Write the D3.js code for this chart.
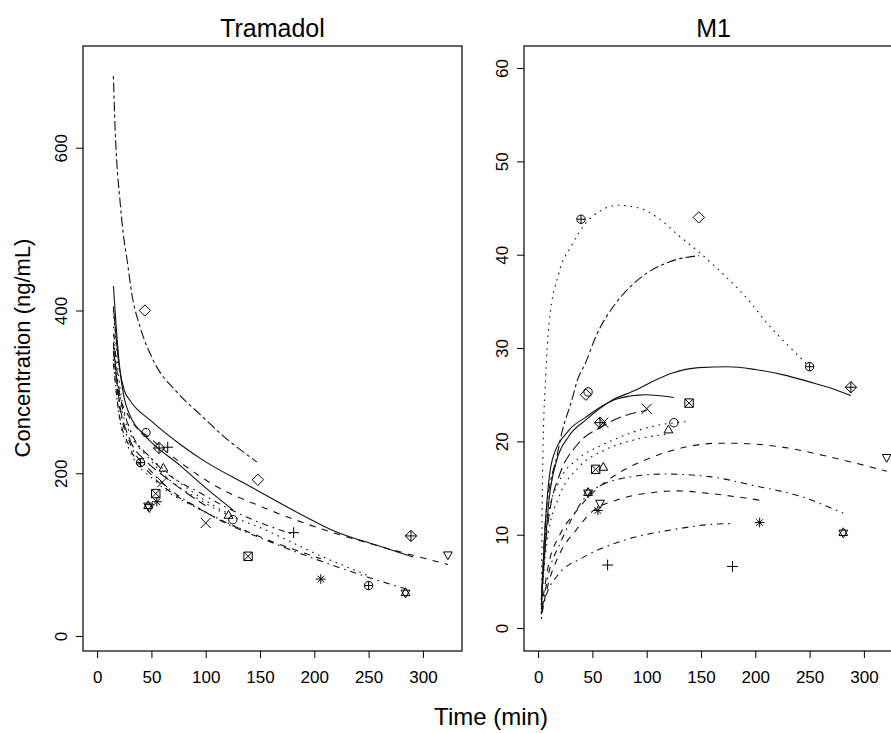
<!DOCTYPE html>
<html>
<head>
<meta charset="utf-8">
<script src="https://cdn.jsdelivr.net/npm/d3@7"></script>
<style>
body { margin: 0; background: #fff; }
text { font-family: "Liberation Sans", Arial, sans-serif; fill: #000; }
</style>
</head>
<body>
<div id="chart"></div>
<script>
// subjects: plotting symbol (R pch) and line type
var pchCodes = [1, 2, 3, 4, 5, 6, 7, 8, 9, 10, 11];
var ltyNames = ["solid", "dotted", "dotdash", "longdash", "twodash", "dashed",
                "dotted", "dashed", "solid", "dotted", "dotdash"];

// observed points, Tramadol panel
var obsTimeTram = [[45, 125], [61, 121], [65, 181], [60, 100], [44, 148], [48, 323],
                   [54, 139], [55, 206], [57, 289], [40, 250], [47, 284]];
var obsTram = [[250, 143], [206, 148], [232, 127], [189, 139], [400, 192], [158, 100],
               [175, 98], [165, 70], [231, 123], [213, 62], [160, 53]];

// observed points, M1 panel
var obsTimeM1 = [[46, 125], [60, 120], [64, 179], [60, 100], [44, 148], [57, 321],
                 [53, 139], [55, 204], [57, 288], [39.5, 250], [46, 281]];
var obsM1 = [[25.3, 22], [17.2, 21.2], [6.75, 6.6], [22, 23.5], [25, 44], [13.4, 18.3],
             [17, 24.1], [12.6, 11.3], [22, 25.8], [43.8, 28], [14.5, 10.2]];

// predicted curves: [time, conc]
var predTram = [
  [[15, 430], [20, 340], [25, 292], [30, 272], [45, 245], [76, 210], [100, 182], [125, 155]],
  [[15, 370], [20, 300], [30, 250], [45, 225], [61, 205], [90, 175], [121, 150]],
  [[15, 380], [20, 305], [30, 255], [50, 218], [100, 172], [143, 143], [181, 125]],
  [[15, 360], [20, 292], [30, 242], [45, 215], [60, 198], [80, 178], [100, 160]],
  [[15, 688], [16.5, 626], [18, 585], [21, 536], [24, 495], [27.6, 462], [32, 420], [40, 378],
   [52, 338], [74, 299], [95, 272], [116, 246], [147, 214]],
  [[15, 350], [20, 300], [30, 268], [50, 242], [80, 210], [107, 186], [153, 158], [215, 128],
   [261, 110], [323, 88]],
  [[15, 340], [20, 272], [30, 228], [54, 190], [100, 152], [139, 128]],
  [[15, 335], [20, 275], [30, 232], [50, 198], [100, 152], [150, 122], [206, 95]],
  [[15, 405], [20, 335], [25, 302], [30, 290], [50, 264], [76, 236], [100, 214], [138, 186],
   [194, 145], [215, 131], [261, 110], [291, 97]],
  [[15, 400], [20, 318], [30, 255], [50, 215], [100, 163], [159, 128], [200, 102], [250, 74]],
  [[15, 355], [20, 288], [30, 238], [50, 202], [100, 152], [159, 116], [200, 95], [250, 72], [284, 58]]
];

var predM1 = [
  [[3, 3], [6, 10], [13, 18], [28.5, 21.2], [44, 22.6], [59, 23.8], [74, 24.6], [99, 25], [125, 24.7]],
  [[3, 2], [6, 7], [10, 10.5], [19, 14], [38, 17.3], [60, 19], [90, 20.2], [121, 20.8]],
  [[3, 1], [5.5, 2.7], [17, 5.5], [42, 7.6], [79, 9.4], [122, 10.5], [159, 11.1], [179, 11.2]],
  [[3, 2.5], [6, 8], [10, 12], [20, 16.5], [35, 19.5], [59, 21.6], [81, 22.8], [100, 23.3]],
  [[3, 1.5], [5, 8], [8, 13], [12, 16], [16.5, 18], [22, 21], [31, 24.4], [36, 26.5], [44, 28.5],
   [53, 31.2], [62, 33.2], [71.5, 34.8], [95, 37.6], [120, 39.2], [148, 39.9]],
  [[3, 2], [10, 7], [20, 10], [35, 12.5], [53, 14.8], [74, 16.6], [105, 18.3], [136, 19.4],
   [166, 19.8], [178, 19.8], [224, 19.4], [270, 18.3], [321, 16.8]],
  [[3, 2.5], [6, 9], [10, 12.5], [19, 15.6], [37.6, 18.2], [59, 19.6], [83, 20.8], [105, 21.6], [136, 22.1]],
  [[3, 1.5], [10, 5], [20, 8], [35, 10.5], [51, 12.6], [72, 13.7], [104, 14.5], [128, 14.7],
   [159, 14.4], [204, 13.7]],
  [[3, 3], [6, 8], [10, 13.7], [16.5, 17.7], [28, 20.5], [44, 22.3], [68, 24.4], [90, 25.5],
   [105, 26.4], [123, 27.3], [148, 27.9], [175, 28], [200, 27.7], [227, 27.1], [249, 26.4],
   [270, 25.7], [288, 24.9]],
  [[3, 1], [3.5, 10], [4.5, 19], [7, 27], [10, 32.5], [19, 38], [31, 41], [44, 43.4], [56, 44.6],
   [74, 45.3], [93, 45], [111, 43.9], [129, 42.1], [148, 40.3], [166, 38.4], [194, 35.1],
   [212, 32.5], [230, 30.3], [248, 28.2]],
  [[3, 1.5], [10, 6], [20, 9], [30, 11.5], [45, 14.2], [76, 16], [116, 16.5], [159, 16.2],
   [201, 15.2], [239, 14.2], [281, 12.3]]
];

var timeTicks = [0, 50, 100, 150, 200, 250, 300];
var tramTicks = [0, 200, 400, 600];
var m1Ticks = [0, 10, 20, 30, 40, 50, 60];

var W = 891, H = 733;
var plotTop = 46, plotBottom = 651, pw = 379;

var dashes = {
  solid: null,
  dashed: "6.4,6.4",
  dotted: "1.6,4.8",
  dotdash: "1.6,4.8,6.4,4.8",
  longdash: "11,5",
  twodash: "3.2,3.2,9.6,3.2"
};

var svg = d3.select("#chart").append("svg")
    .attr("width", W)
    .attr("height", H);

// R style plotting symbols as path strings
function pchPath(p, r) {
  var s = "";
  var c = "M" + (-r) + ",0A" + r + "," + r + " 0 1,0 " + r + ",0A" + r + "," + r + " 0 1,0 " + (-r) + ",0";
  var tu = "M0," + (-r * 1.2) + "L" + (r * 1.05) + "," + (r * 0.65) + "L" + (-r * 1.05) + "," + (r * 0.65) + "Z";
  var td = "M0," + (r * 1.2) + "L" + (r * 1.05) + "," + (-r * 0.65) + "L" + (-r * 1.05) + "," + (-r * 0.65) + "Z";
  var pl = "M" + (-r * 1.3) + ",0H" + (r * 1.3) + "M0," + (-r * 1.3) + "V" + (r * 1.3);
  var x = "M" + (-r) + "," + (-r) + "L" + r + "," + r + "M" + (-r) + "," + r + "L" + r + "," + (-r);
  var dm = "M0," + (-r * 1.35) + "L" + (r * 1.35) + ",0L0," + (r * 1.35) + "L" + (-r * 1.35) + ",0Z";
  var sq = "M" + (-r) + "," + (-r) + "H" + r + "V" + r + "H" + (-r) + "Z";
  var a = r * 0.8;
  if (p == 1) s = c;
  if (p == 2) s = tu;
  if (p == 3) s = pl;
  if (p == 4) s = "M" + (-r * 1.2) + "," + (-r * 1.2) + "L" + (r * 1.2) + "," + (r * 1.2) +
                  "M" + (-r * 1.2) + "," + (r * 1.2) + "L" + (r * 1.2) + "," + (-r * 1.2);
  if (p == 5) s = dm;
  if (p == 6) s = td;
  if (p == 7) s = sq + x;
  if (p == 8) s = "M" + (-r * 1.15) + ",0H" + (r * 1.15) + "M0," + (-r * 1.15) + "V" + (r * 1.15) +
                  "M" + (-a) + "," + (-a) + "L" + a + "," + a + "M" + (-a) + "," + a + "L" + a + "," + (-a);
  if (p == 9) s = dm + "M0," + (-r * 1.35) + "V" + (r * 1.35) + "M" + (-r * 1.35) + ",0H" + (r * 1.35);
  if (p == 10) s = c + "M" + (-r) + ",0H" + r + "M0," + (-r) + "V" + r;
  if (p == 11) s = tu + td;
  return s;
}

function drawPanel(i) {
  var left = i == 0 ? 83 : 524;
  var yDom = i == 0 ? [-18.4, 725] : [-2.46, 62.36];
  var yTicks = i == 0 ? tramTicks : m1Ticks;
  var obsT = i == 0 ? obsTimeTram : obsTimeM1;
  var obs = i == 0 ? obsTram : obsM1;
  var pred = i == 0 ? predTram : predM1;
  var title = i == 0 ? "Tramadol" : "M1";

  var x = d3.scaleLinear().domain([-13, 336]).range([left, left + pw]);
  var y = d3.scaleLinear().domain(yDom).range([plotBottom, plotTop]);

  var g = svg.append("g");

  var line = d3.line()
      .x(function (d) { return x(d[0]); })
      .y(function (d) { return y(d[1]); })
      .curve(d3.curveMonotoneX);

  pred.forEach(function (c, k) {
    g.append("path")
      .attr("d", line(c))
      .attr("fill", "none")
      .attr("stroke", "#111")
      .attr("stroke-width", 1.1)
      .attr("stroke-dasharray", dashes[ltyNames[k]]);
  });

  obs.forEach(function (vals, k) {
    vals.forEach(function (v, j) {
      g.append("path")
        .attr("transform", "translate(" + x(obsT[k][j]) + "," + y(v) + ")")
        .attr("d", pchPath(pchCodes[k], 4.2))
        .attr("fill", "none")
        .attr("stroke", "#000")
        .attr("stroke-width", 1);
    });
  });

  // box
  g.append("rect")
    .attr("x", left).attr("y", plotTop)
    .attr("width", pw).attr("height", plotBottom - plotTop)
    .attr("fill", "none").attr("stroke", "#000").attr("stroke-width", 1.2);

  var ax = g.append("g")
      .attr("transform", "translate(0," + plotBottom + ")")
      .call(d3.axisBottom(x).tickValues(timeTicks).tickSize(7).tickPadding(13));
  ax.select(".domain").remove();
  ax.selectAll("text").style("font-size", "17px");

  var ay = g.append("g")
      .attr("transform", "translate(" + left + ",0)")
      .call(d3.axisLeft(y).tickValues(yTicks).tickSize(7));
  ay.select(".domain").remove();
  ay.selectAll("text")
    .attr("x", 0).attr("y", 0).attr("dy", null)
    .attr("transform", "translate(-16,0) rotate(-90)")
    .attr("text-anchor", "middle")
    .style("font-size", "17px");
  ax.selectAll("line").attr("stroke", "#000");
  ay.selectAll("line").attr("stroke", "#000");

  svg.append("text")
    .attr("x", left + pw / 2).attr("y", 37)
    .attr("text-anchor", "middle")
    .style("font-size", "25px")
    .text(title);
}

drawPanel(0);
drawPanel(1);

svg.append("text")
  .attr("x", 491).attr("y", 725)
  .attr("text-anchor", "middle")
  .style("font-size", "24px")
  .text("Time (min)");

svg.append("text")
  .attr("transform", "translate(30,348) rotate(-90)")
  .attr("text-anchor", "middle")
  .style("font-size", "22px")
  .text("Concentration (ng/mL)");
</script>
</body>
</html>
